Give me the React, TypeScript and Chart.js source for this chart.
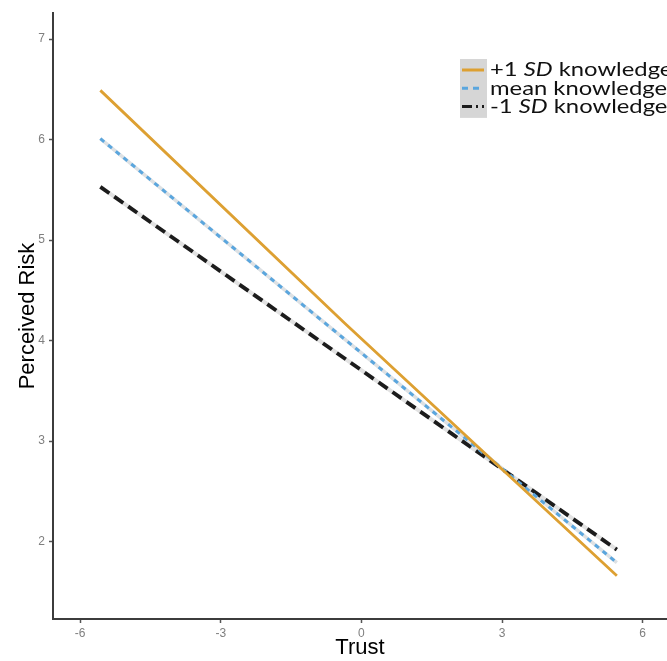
import React, { useEffect, useRef } from "react";
import { Chart, registerables } from "chart.js";

Chart.register(...registerables);

// ---- data ----
const plusSdTrust = [-5.57, -0.35, 5.45];
const plusSdRisk = [6.49, 4.17, 1.66];
const meanTrust = [-5.57, 5.45];
const meanRisk = [6.01, 1.79];
const minusSdTrust = [-5.57, 5.45];
const minusSdRisk = [5.53, 1.92];

const xTicks = [-6, -3, 0, 3, 6];
const yTicks = [2, 3, 4, 5, 6, 7];

const seriesLabels = [
  ["+1 ", "SD", " knowledge"],
  ["mean knowledge", "", ""],
  ["-1 ", "SD", " knowledge"],
];

const ORANGE = "#DDA032";
const BLUE = "#5AA6DE";
const BLACK = "#1c1c1c";

const toPts = (xs: number[], ys: number[]) => xs.map((x, i) => ({ x, y: ys[i] }));

const legendPlugin = {
  id: "customLegend",
  afterDraw(chart: any) {
    const ctx = chart.ctx as CanvasRenderingContext2D;
    ctx.save();
    const boxX = 460;
    const boxY = 59;
    const rowH = 18.3;
    ctx.fillStyle = "#d6d6d6";
    ctx.fillRect(boxX, boxY, 27, rowH * 3 + 4);
    const styles = [
      { color: ORANGE, dash: [] as number[], width: 3 },
      { color: BLUE, dash: [6, 5], width: 3 },
      { color: BLACK, dash: [10, 4, 2, 4], width: 3 },
    ];
    const fontN = "20px Lato, 'Open Sans', sans-serif";
    const fontI = "italic 20px Lato, 'Open Sans', sans-serif";
    ctx.font = fontN;
    const sx = 177 / ctx.measureText("mean knowledge").width;
    seriesLabels.forEach((parts, i) => {
      const cy = boxY + 11 + i * rowH;
      const st = styles[i];
      ctx.strokeStyle = st.color;
      ctx.lineWidth = st.width;
      ctx.setLineDash(st.dash);
      ctx.beginPath();
      ctx.moveTo(boxX + 2, cy);
      ctx.lineTo(boxX + 24, cy);
      ctx.stroke();
      ctx.setLineDash([]);
      ctx.save();
      ctx.translate(490, cy);
      ctx.scale(sx, 1);
      let x = 0;
      ctx.fillStyle = "#111";
      ctx.textBaseline = "middle";
      parts.forEach((p, j) => {
        if (!p) return;
        ctx.font = j === 1 ? fontI : fontN;
        ctx.fillText(p, x, 0);
        x += ctx.measureText(p).width;
      });
      ctx.restore();
    });
    ctx.restore();
  },
};

export default function App() {
  const ref = useRef<HTMLCanvasElement | null>(null);
  useEffect(() => {
    if (!ref.current) return;
    const chart = new Chart(ref.current, {
      type: "scatter",
      data: {
        datasets: [
          {
            label: "+1 SD knowledge",
            data: toPts(plusSdTrust, plusSdRisk),
            showLine: true,
            borderColor: ORANGE,
            borderWidth: 2.8,
            pointRadius: 0,
          },
          {
            label: "mean knowledge",
            data: toPts(meanTrust, meanRisk),
            showLine: true,
            borderColor: BLUE,
            borderWidth: 3,
            borderDash: [5, 5],
            pointRadius: 0,
          },
          {
            label: "-1 SD knowledge",
            data: toPts(minusSdTrust, minusSdRisk),
            showLine: true,
            borderColor: BLACK,
            borderWidth: 3.8,
            borderDash: [11, 6],
            pointRadius: 0,
          },
          {
            label: "mean underlay",
            data: toPts(meanTrust, meanRisk),
            showLine: true,
            borderColor: "#dde1e4",
            borderWidth: 3.5,
            pointRadius: 0,
          },
          {
            label: "-1 SD underlay",
            data: toPts(minusSdTrust, minusSdRisk),
            showLine: true,
            borderColor: "#e2e2e2",
            borderWidth: 4,
            pointRadius: 0,
          },
        ],
      },
      options: {
        responsive: false,
        animation: false,
        layout: { padding: { top: 13, left: 0, right: 0, bottom: 0 } },
        plugins: {
          legend: { display: false },
          tooltip: { enabled: false },
        },
        scales: {
          x: {
            type: "linear",
            min: -6.58,
            max: 6.52,
            afterBuildTicks: (axis: any) => {
              axis.ticks = xTicks.map((v) => ({ value: v }));
            },
            afterFit: (axis: any) => {
              axis.height = 42;
            },
            grid: {
              drawOnChartArea: false,
              drawTicks: true,
              tickLength: 4,
              tickColor: "#555",
              tickWidth: 1.5,
            },
            border: { display: true, color: "#3c3c3c", width: 2 },
            ticks: {
              color: "#7f7f7f",
              font: { size: 12, family: "'Liberation Sans', Arial, sans-serif" },
              padding: 3,
              maxRotation: 0,
            },
            title: {
              display: true,
              text: "Trust",
              color: "#000",
              font: { size: 22, family: "'Liberation Sans', Arial, sans-serif" },
              padding: { top: 0, bottom: 0 },
            },
          },
          y: {
            type: "linear",
            min: 1.23,
            max: 7.26,
            afterBuildTicks: (axis: any) => {
              axis.ticks = yTicks.map((v) => ({ value: v }));
            },
            afterFit: (axis: any) => {
              axis.width = 53;
            },
            grid: {
              drawOnChartArea: false,
              drawTicks: true,
              tickLength: 4,
              tickColor: "#555",
              tickWidth: 1.5,
            },
            border: { display: true, color: "#3c3c3c", width: 2 },
            ticks: {
              color: "#7f7f7f",
              font: { size: 12, family: "'Liberation Sans', Arial, sans-serif" },
              padding: 4,
            },
            title: {
              display: true,
              text: "Perceived Risk",
              color: "#000",
              font: { size: 22, family: "'Liberation Sans', Arial, sans-serif" },
              padding: { top: 15, bottom: 0 },
            },
          },
        },
      },
      plugins: [legendPlugin],
    });
    return () => chart.destroy();
  }, []);
  return (
    <div style={{ position: "absolute", left: 0, top: 0, width: 667, height: 661, background: "#fff" }}>
      <canvas ref={ref} width={667} height={661} style={{ display: "block" }} />
    </div>
  );
}
